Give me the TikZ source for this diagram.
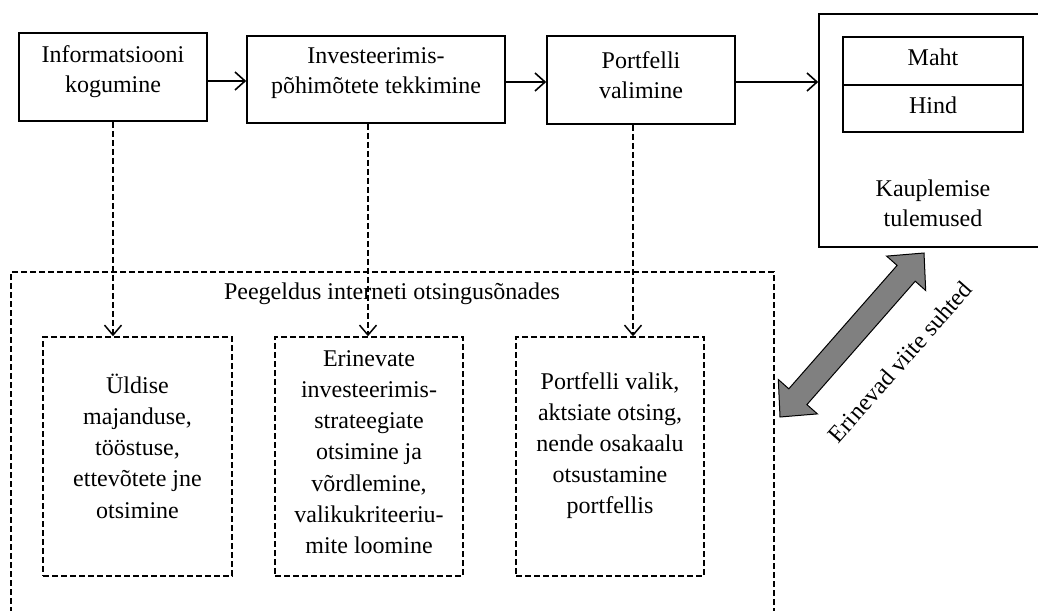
\documentclass[tikz,border=0pt]{standalone}
\usepackage{fontspec}
\setmainfont{Liberation Serif}
\usetikzlibrary{arrows.meta}
\begin{document}
\begin{tikzpicture}[x=1pt,y=-1pt,
  solidbox/.style={draw, line width=1.6pt, inner sep=0pt},
  dbox/.style={draw, line width=1.5pt, dash pattern=on 6pt off 3pt, inner sep=0pt},
  txt/.style={font=\fontsize{24}{30}\selectfont, align=center, inner sep=0pt},
  itxt/.style={font=\fontsize{24}{31.2}\selectfont, align=center, inner sep=0pt},
  arr/.style={line width=1.6pt, -{Straight Barb[length=10pt,width=18pt,line width=1.6pt]}},
  darr/.style={line width=1.5pt, dash pattern=on 6pt off 3pt, -{Straight Barb[length=10pt,width=17pt,line width=1.5pt]}},
]
\useasboundingbox (0,0) rectangle (1038,610);

% top solid boxes
\node[solidbox, minimum width=188pt, minimum height=88pt] (b1) at (113,77) {};
\node[txt] (t1) at (113,72) {Informatsiooni\\kogumine};
\node[solidbox, minimum width=258pt, minimum height=87pt] (b2) at (376,79.5) {};
\node[txt] (t2) at (376,73) {Investeerimis-\\põhimõtete tekkimine};
\node[solidbox, minimum width=188pt, minimum height=88pt] (b3) at (641,80) {};
\node[txt] (t3) at (641,75) {Portfelli\\valimine};

% right result box
\node[solidbox, minimum width=222pt, minimum height=233pt] (rb) at (930,130.5) {};
\node[solidbox, minimum width=180pt, minimum height=48pt] (maht) at (933,61) {};
\node[txt] (tm) at (933,57.5) {Maht};
\node[solidbox, minimum width=180pt, minimum height=47pt] (hind) at (933,108.5) {};
\node[txt] (th) at (933,105) {Hind};
\node[txt] (tk) at (933,203.5) {Kauplemise\\tulemused};

% dashed container
\node[dbox, minimum width=763pt, minimum height=344pt] (big) at (392.5,444) {};
\node[txt] (tp) at (392,294) {Peegeldus interneti otsingusõnades};

% inner dashed boxes
\node[dbox, minimum width=189pt, minimum height=239pt] (a1) at (137.5,456.5) {};
\node[itxt] (ta1) at (137.5,446) {Üldise\\majanduse,\\tööstuse,\\ettevõtete jne\\otsimine};
\node[dbox, minimum width=188pt, minimum height=239pt] (a2) at (369,456.5) {};
\node[itxt] (ta2) at (369,452) {Erinevate\\investeerimis-\\strateegiate\\otsimine ja\\võrdlemine,\\valikukriteeriu-\\mite loomine};
\node[dbox, minimum width=188pt, minimum height=239pt] (a3) at (610,456.5) {};
\node[itxt] (ta3) at (610,445.5) {Portfelli valik,\\aktsiate otsing,\\nende osakaalu\\otsustamine\\portfellis};

% solid arrows
\coordinate (ya) at (0,81);
\coordinate (yb) at (0,82);
\draw[arr] (b1.east |- ya) -- (b2.west |- ya);
\draw[arr] (b2.east |- yb) -- (b3.west |- yb);
\draw[arr] (b3.east |- yb) -- (rb.west |- yb);

% dashed arrows
\coordinate (xa) at (113,0);
\coordinate (xb) at (368,0);
\coordinate (xc) at (633,0);
\draw[darr] (xa |- b1.south) -- (xa |- a1.north);
\draw[darr] (xb |- b2.south) -- (xb |- a2.north);
\draw[darr] (xc |- b3.south) -- (xc |- a3.north);

% gray double arrow
\draw[line width=1pt, fill=black!50, line join=miter]
  (924,253) -- (925.7,290.5) -- (915.2,281.2) -- (806.9,404.6) -- (817.4,413.9)
  -- (780,417) -- (778.3,379.5) -- (788.8,388.8) -- (897.1,265.4) -- (886.6,256.1) -- cycle;
\node[txt, rotate=48.7] (te) at (900,362) {Erinevad viite suhted};
\end{tikzpicture}
\end{document}
